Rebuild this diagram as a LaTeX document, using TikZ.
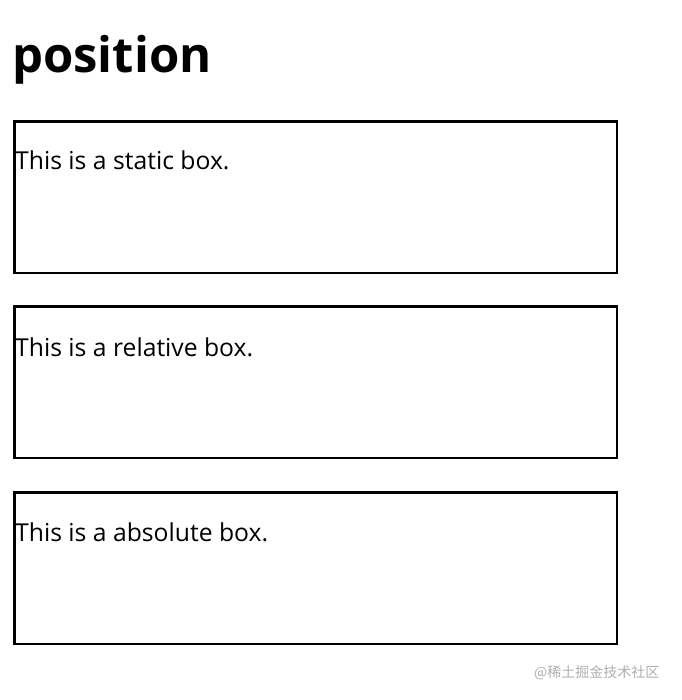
\documentclass[tikz,border=0pt]{standalone}
\usepackage{fontspec}
\setmainfont{Open Sans}
\newfontfamily\cjk{Noto Sans CJK SC}
\definecolor{wmgray}{RGB}{175,175,175}
\begin{document}
\begin{tikzpicture}[x=1pt,y=-1pt,
  boxstyle/.style={draw=black,line width=2.6pt,rectangle,inner sep=0pt,minimum width=602.4pt,minimum height=151.4pt,anchor=north west},
  boxtext/.style={anchor=base west,inner sep=0pt,font=\fontsize{24.7}{28}\selectfont}]
\useasboundingbox (0,0) rectangle (681,700);
\node[anchor=base west,inner sep=0pt,font=\fontsize{49}{56}\selectfont\bfseries] (title) at (12,73) {position};
\node[boxstyle] (b1) at (13.3,120.3) {};
\node[boxstyle] (b2) at (13.3,305.3) {};
\node[boxstyle] (b3) at (13.3,491.3) {};
\node[boxtext] (t1) at (15,170) {This is a static box.};
\node[boxtext] (t2) at (15,356) {This is a relative box.};
\node[boxtext] (t3) at (15,541) {This is a absolute box.};
\node[anchor=base west,inner sep=0pt,text=wmgray,font=\cjk\fontsize{14}{16}\selectfont] (wm) at (534,677) {@稀土掘金技术社区};
\end{tikzpicture}
\end{document}
